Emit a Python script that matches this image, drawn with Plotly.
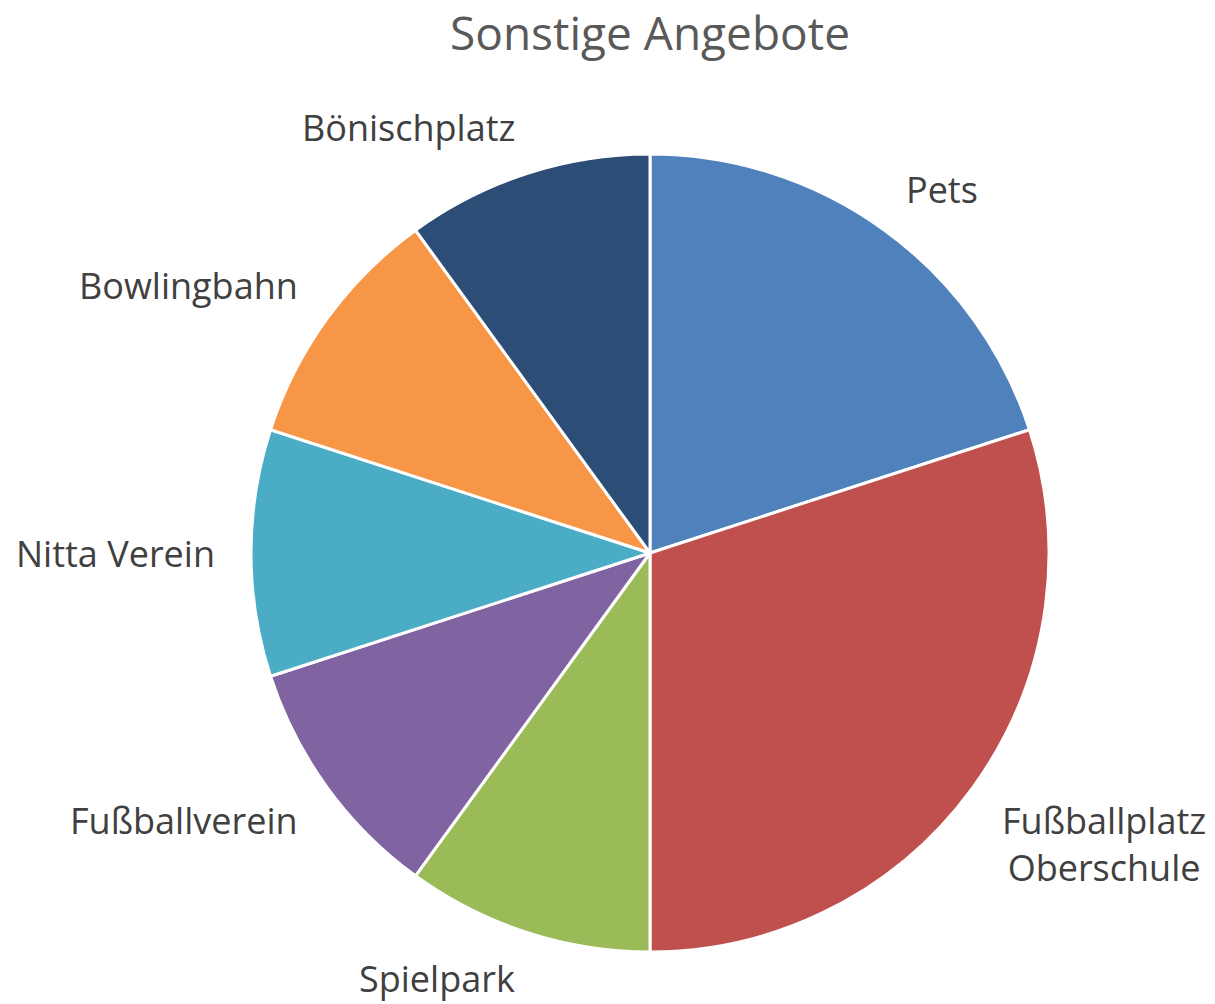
import math
import plotly.graph_objects as go

labels = ["Pets", "Fußballplatz<br>Oberschule", "Spielpark", "Fußballverein",
          "Nitta Verein", "Bowlingbahn", "Bönischplatz"]
values = [2, 3, 1, 1, 1, 1, 1]
colors = ["#4F81BD", "#C0504D", "#9BBB59", "#8064A2", "#4BACC6", "#F79646", "#2C4D75"]

W, H = 1215, 1004
OFF = 0  # page body margin removed via post_script
# pie geometry in page pixels
CX, CY, R = 650, 553, 399
dom_x = [(CX - R - OFF) / W, (CX + R - OFF) / W]
dom_y = [1 - (CY + R - OFF) / H, 1 - (CY - R - OFF) / H]

fig = go.Figure(go.Pie(
    labels=labels, values=values, sort=False, direction="clockwise", rotation=0,
    marker=dict(colors=colors, line=dict(color="white", width=3)),
    textinfo="none",
    domain=dict(x=dom_x, y=dom_y),
    showlegend=False, hoverinfo="label+percent",
))

# data labels placed outside the slices, at the middle angle of each slice
total = sum(values)
cum = 0
annotations = []
for lab, v in zip(labels, values):
    mid = (cum + v / 2) / total * 2 * math.pi
    cum += v
    s, c = math.sin(mid), math.cos(mid)
    rr = R * 1.088
    px = CX + rr * s - OFF
    py = CY - rr * c - OFF
    xa = "left" if s > 0.05 else ("right" if s < -0.05 else "center")
    if c > 0.05:
        ya, ys = "bottom", -13
    elif c < -0.05:
        ya, ys = "top", 13
    else:
        ya, ys = "middle", 0
    annotations.append(dict(
        x=px / W, y=1 - py / H, xref="paper", yref="paper",
        text=lab, showarrow=False, xanchor=xa, yanchor=ya, yshift=ys, align="center",
        font=dict(family="Open Sans", size=36, color="#404040"),
        borderpad=0,
    ))

fig.update_layout(
    width=W, height=H,
    margin=dict(l=0, r=0, t=0, b=0),
    paper_bgcolor="white",
    annotations=annotations,
    title=dict(text="Sonstige Angebote", x=(650 - OFF) / W, xanchor="center",
               y=1 - (34 - OFF) / H, yanchor="middle",
               font=dict(family="Open Sans", size=46, color="#595959")),
)
fig.write_html("out.html", config={"displayModeBar": False},
               post_script="document.body.style.margin='0';")
